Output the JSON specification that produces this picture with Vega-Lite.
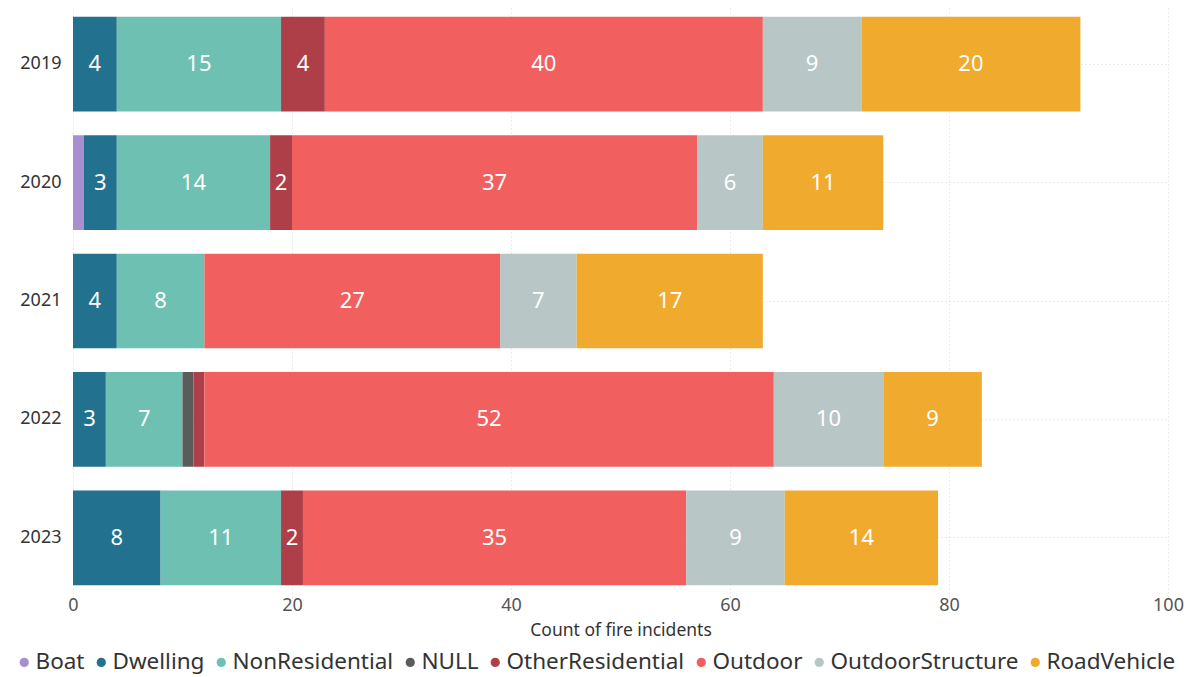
{
  "$schema": "https://vega.github.io/schema/vega-lite/v6.json",
  "width": 1095,
  "height": 592,
  "autosize": {"type": "none"},
  "padding": {"left": 73, "top": 5, "right": 22, "bottom": 80},
  "background": "white",
  "config": {
    "font": "Noto Sans",
    "view": {"stroke": null}
  },
  "data": {
    "values": [
      {"year": "2019", "type": "Dwelling", "count": 4, "ord": 1},
      {"year": "2019", "type": "NonResidential", "count": 15, "ord": 2},
      {"year": "2019", "type": "OtherResidential", "count": 4, "ord": 4},
      {"year": "2019", "type": "Outdoor", "count": 40, "ord": 5},
      {"year": "2019", "type": "OutdoorStructure", "count": 9, "ord": 6},
      {"year": "2019", "type": "RoadVehicle", "count": 20, "ord": 7},
      {"year": "2020", "type": "Boat", "count": 1, "ord": 0},
      {"year": "2020", "type": "Dwelling", "count": 3, "ord": 1},
      {"year": "2020", "type": "NonResidential", "count": 14, "ord": 2},
      {"year": "2020", "type": "OtherResidential", "count": 2, "ord": 4},
      {"year": "2020", "type": "Outdoor", "count": 37, "ord": 5},
      {"year": "2020", "type": "OutdoorStructure", "count": 6, "ord": 6},
      {"year": "2020", "type": "RoadVehicle", "count": 11, "ord": 7},
      {"year": "2021", "type": "Dwelling", "count": 4, "ord": 1},
      {"year": "2021", "type": "NonResidential", "count": 8, "ord": 2},
      {"year": "2021", "type": "Outdoor", "count": 27, "ord": 5},
      {"year": "2021", "type": "OutdoorStructure", "count": 7, "ord": 6},
      {"year": "2021", "type": "RoadVehicle", "count": 17, "ord": 7},
      {"year": "2022", "type": "Dwelling", "count": 3, "ord": 1},
      {"year": "2022", "type": "NonResidential", "count": 7, "ord": 2},
      {"year": "2022", "type": "NULL", "count": 1, "ord": 3},
      {"year": "2022", "type": "OtherResidential", "count": 1, "ord": 4},
      {"year": "2022", "type": "Outdoor", "count": 52, "ord": 5},
      {"year": "2022", "type": "OutdoorStructure", "count": 10, "ord": 6},
      {"year": "2022", "type": "RoadVehicle", "count": 9, "ord": 7},
      {"year": "2023", "type": "Dwelling", "count": 8, "ord": 1},
      {"year": "2023", "type": "NonResidential", "count": 11, "ord": 2},
      {"year": "2023", "type": "OtherResidential", "count": 2, "ord": 4},
      {"year": "2023", "type": "Outdoor", "count": 35, "ord": 5},
      {"year": "2023", "type": "OutdoorStructure", "count": 9, "ord": 6},
      {"year": "2023", "type": "RoadVehicle", "count": 14, "ord": 7}
    ]
  },
  "encoding": {
    "y": {
      "field": "year",
      "type": "nominal",
      "sort": "ascending",
      "scale": {"paddingInner": 0.2, "paddingOuter": 0.1},
      "axis": {
        "title": null,
        "domain": false,
        "ticks": false,
        "labelFontSize": 18,
        "labelColor": "#333333",
        "labelPadding": 12,
        "grid": true,
        "bandPosition": 0.5,
        "gridColor": "#d6d6d6",
        "gridDash": [1, 3],
        "gridWidth": 1
      }
    },
    "x": {
      "field": "count",
      "type": "quantitative",
      "stack": "zero",
      "scale": {"domain": [0, 100], "nice": false},
      "axis": {
        "values": [0, 20, 40, 60, 80, 100],
        "title": "Count of fire incidents",
        "titleFontSize": 17.5,
        "titleFontWeight": "normal",
        "titleColor": "#333333",
        "titlePadding": 7,
        "domain": false,
        "ticks": false,
        "labelFontSize": 18,
        "labelColor": "#555555",
        "labelPadding": -1,
        "labelFlush": false,
        "grid": true,
        "gridColor": "#d6d6d6",
        "gridDash": [1, 3],
        "gridWidth": 1
      }
    },
    "order": {"field": "ord", "type": "quantitative", "sort": "ascending"}
  },
  "layer": [
    {
      "mark": {"type": "bar"},
      "encoding": {
        "color": {
          "field": "type",
          "type": "nominal",
          "scale": {
            "domain": ["Boat", "Dwelling", "NonResidential", "NULL", "OtherResidential", "Outdoor", "OutdoorStructure", "RoadVehicle"],
            "range": ["#A88FD0", "#22718F", "#6DC0B2", "#5B5B5B", "#AE3F48", "#F15F5F", "#B9C6C6", "#F0AB2E"]
          },
          "legend": {
            "title": null,
            "orient": "none",
            "direction": "horizontal",
            "legendX": -60,
            "legendY": 646,
            "symbolType": "circle",
            "symbolSize": 85,
            "symbolStrokeWidth": 0,
            "labelFontSize": 22.5,
            "labelColor": "#333333",
            "labelOffset": 0,
            "columnPadding": 5,
            "labelLimit": 300
          }
        }
      }
    },
    {
      "mark": {"type": "text", "color": "white", "fontSize": 22, "align": "center", "baseline": "middle"},
      "encoding": {
        "x": {"field": "count", "type": "quantitative", "stack": "zero", "bandPosition": 0.5},
        "text": {"field": "count", "type": "quantitative"},
        "opacity": {"condition": {"test": "datum.count > 1", "value": 1}, "value": 0}
      }
    }
  ]
}
